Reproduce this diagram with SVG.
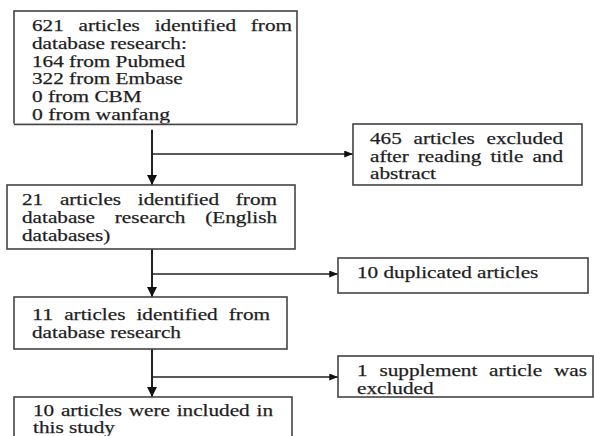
<svg xmlns="http://www.w3.org/2000/svg" width="594" height="436" viewBox="0 0 594 436">
<style>
.box{fill:#fff;stroke:#444;stroke-width:1.6}
.t{font-family:"Liberation Serif","Times New Roman",serif;font-size:16px;fill:#1a1a1a;stroke:#333;stroke-width:0.25}
.main{stroke:#222;stroke-width:2;fill:none}
.br{stroke:#222;stroke-width:1.3;fill:none}
</style>
<defs>
<marker id="ad" viewBox="0 0 10 10" refX="10" refY="5" markerWidth="10" markerHeight="10" markerUnits="userSpaceOnUse" orient="auto"><path d="M0,0 L10,5 L0,10 z" fill="#111"/></marker>
<marker id="ar" viewBox="0 0 10 8" refX="10" refY="4" markerWidth="9" markerHeight="7" markerUnits="userSpaceOnUse" orient="auto"><path d="M0,0 L10,4 L0,8 z" fill="#111"/></marker>
</defs>
<rect width="594" height="436" fill="#fff"/>
<g id="connectors">
<line class="main" x1="152" y1="124" x2="152" y2="185" marker-end="url(#ad)"/>
<line class="br" x1="152" y1="154" x2="353" y2="154" marker-end="url(#ar)"/>
<line class="main" x1="152" y1="249" x2="152" y2="297" marker-end="url(#ad)"/>
<line class="br" x1="152" y1="274" x2="338" y2="274" marker-end="url(#ar)"/>
<line class="main" x1="152" y1="349" x2="152" y2="397" marker-end="url(#ad)"/>
<line class="br" x1="152" y1="377" x2="338" y2="377" marker-end="url(#ar)"/>
</g>
<g id="n1">
<rect class="box" x="14" y="11" width="283" height="113.5"/>
<text class="t" y="31"><tspan x="32" textLength="31.8" lengthAdjust="spacingAndGlyphs">621</tspan><tspan x="78.6" textLength="61.2" lengthAdjust="spacingAndGlyphs">articles</tspan><tspan x="154.7" textLength="81.3" lengthAdjust="spacingAndGlyphs">identified</tspan><tspan x="250.8" textLength="41.2" lengthAdjust="spacingAndGlyphs">from</tspan></text>
<text class="t" x="32" y="49" textLength="154.8" lengthAdjust="spacingAndGlyphs">database research:</text>
<text class="t" x="32" y="66.5" textLength="153.1" lengthAdjust="spacingAndGlyphs">164 from Pubmed</text>
<text class="t" x="32" y="84" textLength="150.7" lengthAdjust="spacingAndGlyphs">322 from Embase</text>
<text class="t" x="32" y="101.5" textLength="109.5" lengthAdjust="spacingAndGlyphs">0 from CBM</text>
<text class="t" x="32" y="119.5" textLength="138" lengthAdjust="spacingAndGlyphs">0 from wanfang</text>
<rect x="13" y="123.7" width="285" height="6" fill="#fff"/>
<line x1="14" y1="124.5" x2="297" y2="124.5" stroke="#444" stroke-width="1.6"/>
</g>
<g id="n2">
<rect class="box" x="353" y="124" width="229" height="61"/>
<text class="t" y="144"><tspan x="370" textLength="31.8" lengthAdjust="spacingAndGlyphs">465</tspan><tspan x="413.6" textLength="61.2" lengthAdjust="spacingAndGlyphs">articles</tspan><tspan x="486.5" textLength="76.5" lengthAdjust="spacingAndGlyphs">excluded</tspan></text>
<text class="t" y="161.5"><tspan x="370" textLength="38.8" lengthAdjust="spacingAndGlyphs">after</tspan><tspan x="417.8" textLength="63.6" lengthAdjust="spacingAndGlyphs">reading</tspan><tspan x="490.4" textLength="33" lengthAdjust="spacingAndGlyphs">title</tspan><tspan x="532.4" textLength="30.6" lengthAdjust="spacingAndGlyphs">and</tspan></text>
<text class="t" x="370" y="179" textLength="66" lengthAdjust="spacingAndGlyphs">abstract</text>
</g>
<g id="n3">
<rect class="box" x="7" y="185" width="288" height="64"/>
<text class="t" y="205"><tspan x="22" textLength="21.2" lengthAdjust="spacingAndGlyphs">21</tspan><tspan x="59.9" textLength="61.2" lengthAdjust="spacingAndGlyphs">articles</tspan><tspan x="137.8" textLength="81.3" lengthAdjust="spacingAndGlyphs">identified</tspan><tspan x="235.8" textLength="41.2" lengthAdjust="spacingAndGlyphs">from</tspan></text>
<text class="t" y="222.5"><tspan x="22" textLength="73" lengthAdjust="spacingAndGlyphs">database</tspan><tspan x="114.8" textLength="70.6" lengthAdjust="spacingAndGlyphs">research</tspan><tspan x="205.2" textLength="71.8" lengthAdjust="spacingAndGlyphs">(English</tspan></text>
<text class="t" x="22" y="240.5" textLength="88.3" lengthAdjust="spacingAndGlyphs">databases)</text>
</g>
<g id="n4">
<rect class="box" x="338" y="258" width="250" height="35"/>
<text class="t" x="357" y="278" textLength="181.3" lengthAdjust="spacingAndGlyphs">10 duplicated articles</text>
</g>
<g id="n5">
<rect class="box" x="14" y="297" width="273" height="52"/>
<text class="t" y="320"><tspan x="32" textLength="21.2" lengthAdjust="spacingAndGlyphs">11</tspan><tspan x="64.2" textLength="61.2" lengthAdjust="spacingAndGlyphs">articles</tspan><tspan x="136.4" textLength="81.3" lengthAdjust="spacingAndGlyphs">identified</tspan><tspan x="228.8" textLength="41.2" lengthAdjust="spacingAndGlyphs">from</tspan></text>
<text class="t" x="32" y="337.5" textLength="148.9" lengthAdjust="spacingAndGlyphs">database research</text>
</g>
<g id="n6">
<rect class="box" x="14" y="397" width="278" height="50"/>
<text class="t" y="415.5"><tspan x="33" textLength="21.2" lengthAdjust="spacingAndGlyphs">10</tspan><tspan x="60.9" textLength="61.2" lengthAdjust="spacingAndGlyphs">articles</tspan><tspan x="128.8" textLength="41.2" lengthAdjust="spacingAndGlyphs">were</tspan><tspan x="176.7" textLength="73" lengthAdjust="spacingAndGlyphs">included</tspan><tspan x="256.5" textLength="16.5" lengthAdjust="spacingAndGlyphs">in</tspan></text>
<text class="t" x="33" y="433" textLength="81.9" lengthAdjust="spacingAndGlyphs">this study</text>
</g>
<g id="n7">
<rect class="box" x="338" y="356" width="255" height="41"/>
<text class="t" y="376"><tspan x="357" textLength="10.6" lengthAdjust="spacingAndGlyphs">1</tspan><tspan x="379.5" textLength="97.8" lengthAdjust="spacingAndGlyphs">supplement</tspan><tspan x="489.1" textLength="53" lengthAdjust="spacingAndGlyphs">article</tspan><tspan x="554" textLength="33" lengthAdjust="spacingAndGlyphs">was</tspan></text>
<text class="t" x="357" y="393.5" textLength="76.5" lengthAdjust="spacingAndGlyphs">excluded</text>
</g>
</svg>
